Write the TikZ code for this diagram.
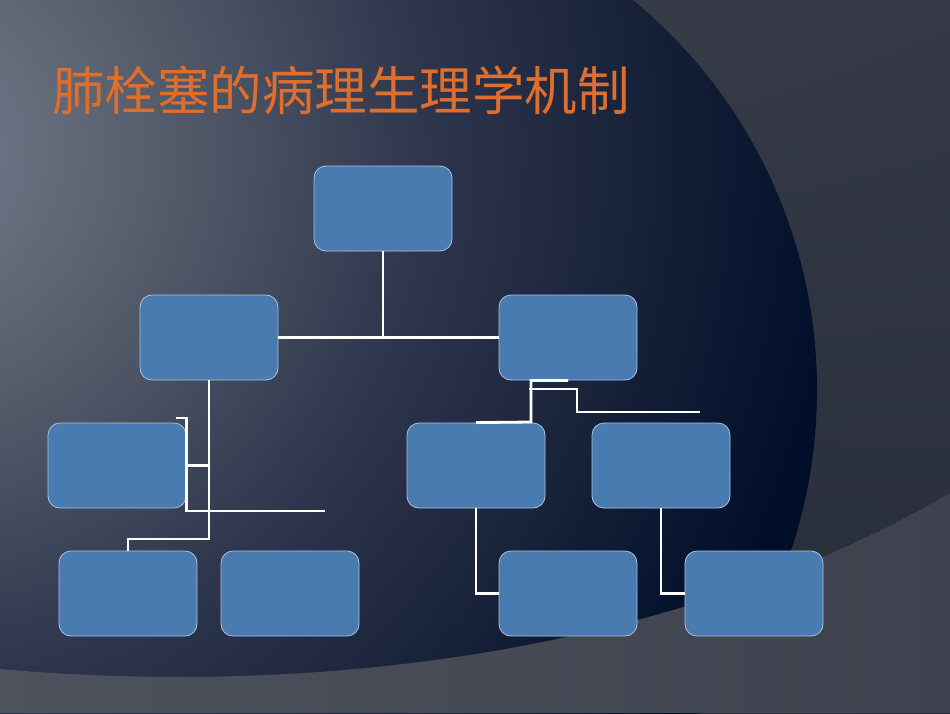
\documentclass[tikz,border=0pt]{standalone}
\usepackage{fontspec}
\usetikzlibrary{shadings}
\newfontfamily\cjk{Noto Sans CJK SC}
\definecolor{boxblue}{RGB}{73,122,176}
\definecolor{boxedge}{RGB}{170,195,225}
\definecolor{titleorange}{RGB}{222,110,45}
\definecolor{bgUL}{RGB}{60,65,77}
\definecolor{bgUR}{RGB}{52,57,69}
\definecolor{bgLL}{RGB}{34,39,54}
\definecolor{bgLR}{RGB}{40,45,58}
\definecolor{bandL}{RGB}{78,82,92}
\definecolor{bandR}{RGB}{62,66,78}
\pgfdeclareradialshading{bowl}{\pgfpoint{0bp}{0bp}}{%
  rgb(0bp)=(0.47,0.49,0.56);
  rgb(6.3bp)=(0.33,0.36,0.42);
  rgb(12.6bp)=(0.18,0.21,0.30);
  rgb(17.7bp)=(0.09,0.13,0.22);
  rgb(22.7bp)=(0,0.055,0.165);
  rgb(50bp)=(0,0.055,0.165)}
\tikzset{
  blk/.style={draw=boxedge,line width=0.8pt,fill=boxblue,rounded corners=12pt,
    minimum width=138pt,minimum height=85pt,inner sep=0pt},
  wire/.style={draw=white,line width=2.8pt}
}
\begin{document}
\begin{tikzpicture}[x=1pt,y=-1pt]
      \useasboundingbox (0,0) rectangle (950,713);
      % background
      \shade[upper left=bgUL,upper right=bgUR,lower left=bgLL,lower right=bgLR]
        (0,0) rectangle (950,713);
      \begin{scope}
        \clip (312,390) circle (505);
        \shade[shading=bowl] (-100,150) circle (1050);
      \end{scope}
      \shade[left color=bandL,right color=bandR]
        (0,669) .. controls (350,700) and (700,640) .. (950,493) -- (950,713) -- (0,713) -- cycle;
      % title
      \node[anchor=west,text=titleorange,font=\cjk\fontsize{52.5}{52.5}\selectfont,inner sep=0pt]
        (title) at (52,90) {肺栓塞的病理生理学机制};
      % boxes
      \node[blk] (top) at (383,208.5) {};
      \node[blk] (mL)  at (209,337.5) {};
      \node[blk] (mR)  at (568,337.5) {};
      \node[blk] (sA)  at (117,465.5) {};
      \node[blk] (sB)  at (476,465.5) {};
      \node[blk] (sC)  at (661,465.5) {};
      \node[blk] (bA)  at (128,593.5) {};
      \node[blk] (bB)  at (290,593.5) {};
      \node[blk] (bC)  at (568,593.5) {};
      \node[blk] (bD)  at (754,593.5) {};
      % loose ends of the connectors
      \coordinate (jL) at (209,539);
      \coordinate (hA) at (176,418);
      \coordinate (hB) at (325,511);
      \coordinate (jR) at (531,422);
      \coordinate (kA) at (529,389);
      \coordinate (kM) at (577,389);
      \coordinate (kB) at (700,412);
      % connectors
      \draw[wire] (top.south) -- (top.south |- mL.east);
      \draw[wire] (mL.east) -- (mR.west);
      \draw[wire] (mL.south) -- (jL) -| (bA.north);
      \draw[wire] (hA) -| (hB -| sA.east) -- (hB);
      \draw[wire] (sA.east) -- (sA.east -| mL.south);
      \draw[wire] (sB.north) -- (jR) |- (mR.south);
      \draw[wire] (kA) -- (kM) |- (kB);
      \draw[wire] (sB.south) |- (bC.west);
      \draw[wire] (sC.south) |- (bD.west);
     \end{tikzpicture}
\end{document}
